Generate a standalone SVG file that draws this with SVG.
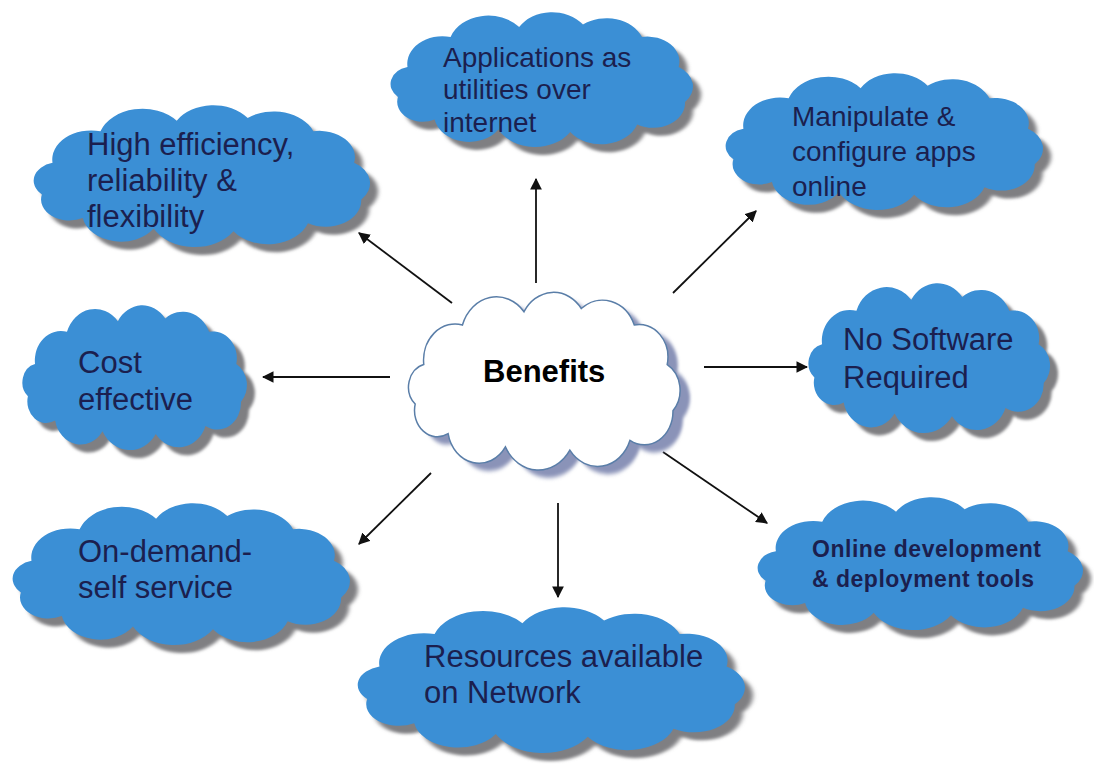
<svg xmlns="http://www.w3.org/2000/svg" xmlns:xlink="http://www.w3.org/1999/xlink" width="1094" height="765" viewBox="0 0 1094 765">
<style>
.cloud{fill:#3b8fd5;}
.shadow{fill:#7f7f82;}
.bshadow{fill:#8a93b8;}
.bcloud{fill:#ffffff;stroke:#5a7ea8;stroke-width:1.5;}
.lbl{font-family:"Liberation Sans",Arial,sans-serif;fill:#1b1f4f;font-size:31px;}
.sm{font-size:28px;}
.bold{font-size:23px;font-weight:bold;}
.conn{stroke:#111;stroke-width:1.8;fill:none;marker-end:url(#ah);}
</style>
<defs>
<path id="cp" d="M18,42 A22,22 0 0 1 45,18 A25,25 0 0 1 88,10 A24,24 0 0 1 128,8 A24,24 0 0 1 165,18 A20,20 0 0 1 188,42 A18,18 0 0 1 192,70 A20,20 0 0 1 162,88 A24,24 0 0 1 120,94 A26,26 0 0 1 75,92 A22,22 0 0 1 35,84 A16,16 0 0 1 12,66 A14,14 0 0 1 18,42 Z" vector-effect="non-scaling-stroke"/>
<filter id="blur" x="-5%" y="-5%" width="110%" height="110%"><feGaussianBlur stdDeviation="1.2"/></filter>
<marker id="ah" viewBox="0 0 10 10" refX="9" refY="5" markerWidth="6.5" markerHeight="6.5" markerUnits="strokeWidth" orient="auto"><path d="M0,0 L10,5 L0,10 Z" fill="#111"/></marker>
</defs>
<rect width="1094" height="765" fill="#ffffff"/>

<g id="connectors">
<line class="conn" x1="452" y1="303" x2="359" y2="233"/>
<line class="conn" x1="536" y1="283" x2="536" y2="179"/>
<line class="conn" x1="673" y1="293" x2="756" y2="211"/>
<line class="conn" x1="390" y1="377" x2="263" y2="377"/>
<line class="conn" x1="704" y1="367" x2="807" y2="367"/>
<line class="conn" x1="431" y1="473" x2="359" y2="544"/>
<line class="conn" x1="558" y1="503" x2="558" y2="597"/>
<line class="conn" x1="663" y1="452" x2="767" y2="523"/>
</g>

<g id="node-benefits">
<use xlink:href="#cp" href="#cp" class="bshadow" filter="url(#blur)" transform="translate(408,303) scale(1.432,1.648)"/>
<use xlink:href="#cp" href="#cp" class="bcloud" transform="translate(398,295.3) scale(1.432,1.648)"/>
<text x="483" y="382" font-family="Liberation Sans,Arial,sans-serif" font-weight="bold" font-size="31" fill="#000">Benefits</text>
</g>

<g id="node-high">
<use xlink:href="#cp" href="#cp" class="shadow" filter="url(#blur)" transform="translate(28.6,115.6) scale(1.774,1.315)"/>
<use xlink:href="#cp" href="#cp" class="cloud" transform="translate(20.6,107.6) scale(1.774,1.315)"/>
<text class="lbl" x="87" y="155">High efficiency,</text>
<text class="lbl" x="87" y="191">reliability &amp;</text>
<text class="lbl" x="87" y="227">flexibility</text>
</g>

<g id="node-apps">
<use xlink:href="#cp" href="#cp" class="shadow" filter="url(#blur)" transform="translate(386.8,22.5) scale(1.595,1.25)"/>
<use xlink:href="#cp" href="#cp" class="cloud" transform="translate(378.8,14.5) scale(1.595,1.25)"/>
<text class="lbl sm" x="443" y="67">Applications as</text>
<text class="lbl sm" x="443" y="99">utilities over</text>
<text class="lbl sm" x="443" y="132">internet</text>
</g>

<g id="node-manip">
<use xlink:href="#cp" href="#cp" class="shadow" filter="url(#blur)" transform="translate(721.3,83.5) scale(1.674,1.269)"/>
<use xlink:href="#cp" href="#cp" class="cloud" transform="translate(713.3,75.5) scale(1.674,1.269)"/>
<text class="lbl sm" x="792" y="126">Manipulate &amp;</text>
<text class="lbl sm" x="792" y="161">configure apps</text>
<text class="lbl sm" x="792" y="196">online</text>
</g>

<g id="node-cost">
<use xlink:href="#cp" href="#cp" class="shadow" filter="url(#blur)" transform="translate(21.7,315.7) scale(1.184,1.343)"/>
<use xlink:href="#cp" href="#cp" class="cloud" transform="translate(13.7,307.7) scale(1.184,1.343)"/>
<text class="lbl" x="78" y="373">Cost</text>
<text class="lbl" x="78" y="410">effective</text>
</g>

<g id="node-nosoft">
<use xlink:href="#cp" href="#cp" class="shadow" filter="url(#blur)" transform="translate(807.1,293.8) scale(1.274,1.389)"/>
<use xlink:href="#cp" href="#cp" class="cloud" transform="translate(799.1,285.8) scale(1.274,1.389)"/>
<text class="lbl" x="843" y="350">No Software</text>
<text class="lbl" x="843" y="388">Required</text>
</g>

<g id="node-ondemand">
<use xlink:href="#cp" href="#cp" class="shadow" filter="url(#blur)" transform="translate(7.5,513.6) scale(1.779,1.315)"/>
<use xlink:href="#cp" href="#cp" class="cloud" transform="translate(-0.5,505.6) scale(1.779,1.315)"/>
<text class="lbl" x="78" y="562">On-demand-</text>
<text class="lbl" x="78" y="598">self service</text>
</g>

<g id="node-online">
<use xlink:href="#cp" href="#cp" class="shadow" filter="url(#blur)" transform="translate(753,507.5) scale(1.716,1.231)"/>
<use xlink:href="#cp" href="#cp" class="cloud" transform="translate(745,499.5) scale(1.716,1.231)"/>
<text class="lbl bold" x="812" y="557" textLength="229" lengthAdjust="spacing">Online development</text>
<text class="lbl bold" x="812" y="587" textLength="222" lengthAdjust="spacing">&amp; deployment tools</text>
</g>

<g id="node-resources">
<use xlink:href="#cp" href="#cp" class="shadow" filter="url(#blur)" transform="translate(350.7,617.7) scale(2.042,1.352)"/>
<use xlink:href="#cp" href="#cp" class="cloud" transform="translate(342.7,609.7) scale(2.042,1.352)"/>
<text class="lbl" x="424" y="667">Resources available</text>
<text class="lbl" x="424" y="703">on Network</text>
</g>
</svg>
